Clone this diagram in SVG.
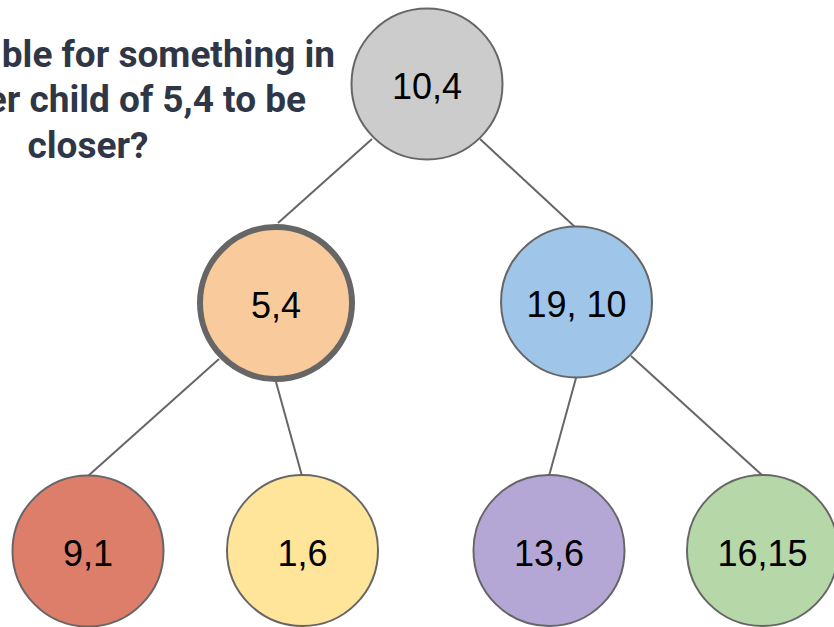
<svg xmlns="http://www.w3.org/2000/svg" width="834" height="627" viewBox="0 0 834 627">
<style>
.n{stroke:#666666;stroke-width:2}
.t{font-family:"Liberation Sans",Arial,sans-serif;font-size:36px;fill:#000;text-anchor:middle}
.e{stroke:#666666;stroke-width:2;fill:none}
.q{font-family:Roboto,"Liberation Sans",sans-serif;font-weight:bold;font-size:37px;fill:#2f3747}
</style>
<rect width="834" height="627" fill="#ffffff"/>
<g id="question">
<text class="q" x="335" y="67" text-anchor="end">ble for something in</text>
<text class="q" x="306" y="112" text-anchor="end">er child of 5,4 to be</text>
<text class="q" x="88" y="158" text-anchor="middle">closer?</text>
</g>
<g id="connectors">
<line class="e" x1="372" y1="139" x2="278" y2="223"/>
<line class="e" x1="480" y1="139" x2="575" y2="227"/>
<line class="e" x1="219" y1="359" x2="88" y2="476"/>
<line class="e" x1="276" y1="382" x2="302" y2="476"/>
<line class="e" x1="576" y1="378" x2="549" y2="476"/>
<line class="e" x1="631" y1="356" x2="763" y2="476"/>
</g>
<g id="n104"><circle class="n" cx="427" cy="84" r="75.5" fill="#cccccc"/><text class="t" x="427" y="99">10,4</text></g>
<g id="n54"><circle cx="276" cy="303" r="76" fill="#f9cb9c" stroke="#666666" stroke-width="6"/><text class="t" x="276" y="318">5,4</text></g>
<g id="n1910"><circle class="n" cx="576.5" cy="302" r="75.5" fill="#9fc5e8"/><text class="t" x="576.5" y="317">19, 10</text></g>
<g id="n91"><circle class="n" cx="88" cy="551" r="75.5" fill="#dd7e6b"/><text class="t" x="88" y="566">9,1</text></g>
<g id="n16"><circle class="n" cx="302.5" cy="550.5" r="75.5" fill="#ffe599"/><text class="t" x="302.5" y="565.5">1,6</text></g>
<g id="n136"><circle class="n" cx="549" cy="550.5" r="75.5" fill="#b4a7d6"/><text class="t" x="549" y="565.5">13,6</text></g>
<g id="n1615"><circle class="n" cx="762.5" cy="550.5" r="75.5" fill="#b6d7a8"/><text class="t" x="762.5" y="565.5">16,15</text></g>
</svg>
